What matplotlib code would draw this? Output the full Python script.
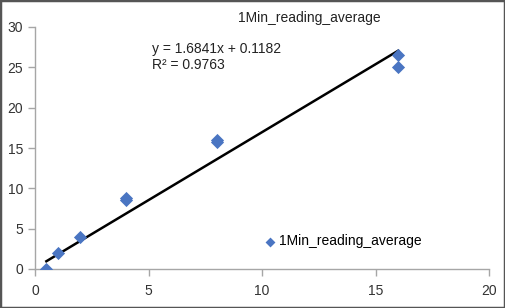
import matplotlib
matplotlib.use("Agg")
import matplotlib.pyplot as plt
from matplotlib.patches import Rectangle
import numpy as np

plt.rcParams['font.family'] = ['Liberation Sans', 'DejaVu Sans']

x_vals = [0.5, 1, 2, 4, 4, 8, 8, 16, 16]
y_vals = [0, 2, 4, 8.5, 8.8, 15.8, 16, 26.5, 25]
slope = 1.6841
intercept = 0.1182
r2 = 0.9763
series_name = "1Min_reading_average"
x_ticks = [0, 5, 10, 15, 20]
y_ticks = [0, 5, 10, 15, 20, 25, 30]

fig = plt.figure(figsize=(5.05, 3.08), dpi=100)
ax = fig.add_axes([35/505, 1-269/308, (489-35)/505, (269-27)/308])

ax.scatter(x_vals, y_vals, marker='D', s=45, color='#4a75c2', zorder=3,
           label=series_name, linewidths=0)
xl = np.array([min(x_vals), max(x_vals)])
ax.plot(xl, slope*xl + intercept, color='black', lw=1.8, zorder=2)

ax.set_xlim(0, 20)
ax.set_ylim(0, 30)
ax.set_xticks(x_ticks)
ax.set_yticks(y_ticks)
for s in ['top', 'right']:
    ax.spines[s].set_visible(False)
for s in ['left', 'bottom']:
    ax.spines[s].set_color('#a6a6a6')
    ax.spines[s].set_linewidth(1)
ax.tick_params(colors='#a6a6a6', labelcolor='#333333', labelsize=10, length=5, width=1)
ax.tick_params(axis='x', pad=6)

fig.text(309/505, 1-18/308, series_name, ha='center', va='center', fontsize=10, color='#222222')
ax.text(0.258, 0.938, f"y = {slope}x + {intercept}\nR² = {r2}", transform=ax.transAxes,
        ha='left', va='top', fontsize=10, color='#222222', linespacing=1.15)

leg = ax.legend(loc='lower left', bbox_to_anchor=(0.471, 0.034), frameon=False, fontsize=10,
                handletextpad=0.1, markerscale=0.75, handlelength=1.2)

fig.patches.append(Rectangle((0, 0), 1, 1, transform=fig.transFigure, fill=False,
                             edgecolor='#555555', lw=2.5))

fig.savefig("out.png", dpi=100)
